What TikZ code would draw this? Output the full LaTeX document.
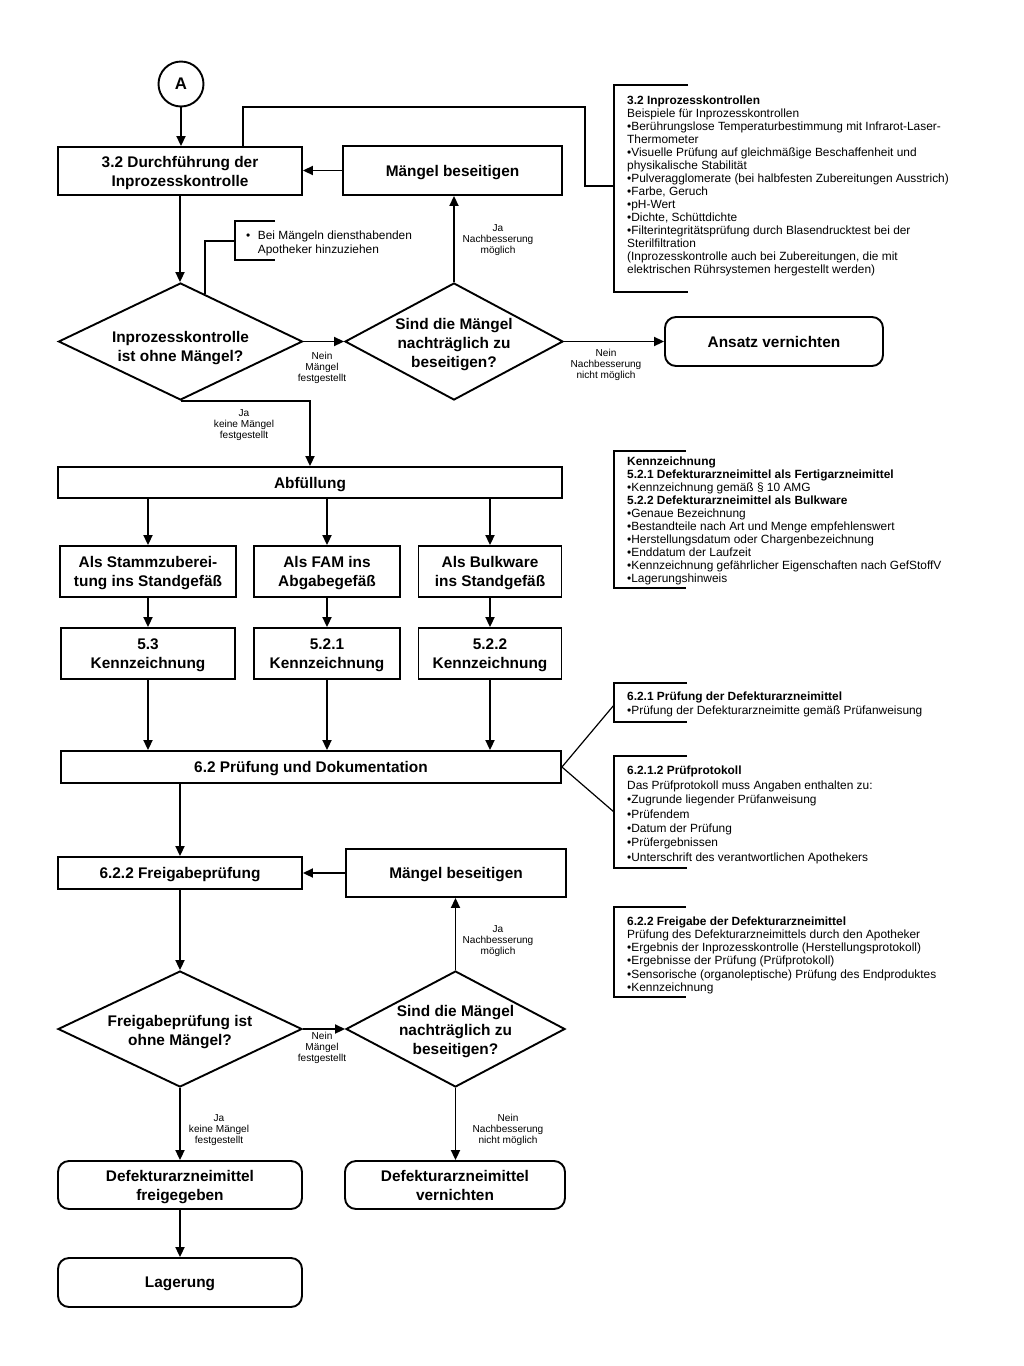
\documentclass[tikz,border=0pt]{standalone}
\usepackage{fontspec}
\setmainfont{Liberation Sans}
\usetikzlibrary{shapes.geometric,arrows.meta,calc}
\begin{document}
\begin{tikzpicture}[x=1pt,y=-1pt,
  box/.style={draw, line width=1.9pt, align=center, font=\bfseries\fontsize{15.4}{19}\selectfont, inner sep=0pt, text depth=0pt},
  rbox/.style={box, rounded corners=11pt},
  dia/.style={draw, diamond, line width=1.9pt, inner sep=0pt},
  dtext/.style={align=center, font=\bfseries\fontsize{15.4}{19}\selectfont, inner sep=0pt, yshift=-3pt},
  conn/.style={line width=1.9pt},
  arr/.style={conn, -{Triangle[length=10pt,width=9pt]}},
  lbl/.style={align=center, font=\fontsize{10.1}{11}\selectfont, inner sep=0pt},
  annot/.style={align=left, font=\fontsize{11.9}{13}\selectfont, inner sep=0pt, anchor=north west},
  brk/.style={line width=1.5pt},
  thin/.style={line width=1.2pt}
]
\useasboundingbox (0,0) rectangle (1024,1366);
\fill[white] (0,0) rectangle (1024,1366);

% ---------- top part ----------
\node[draw, circle, line width=1.9pt, minimum size=45pt, inner sep=0pt,
      font=\bfseries\fontsize{16.8}{20}\selectfont] (A) at (181,84) {A};
\node[box, minimum width=244pt, minimum height=48pt] (B1) at (180,171) {3.2 Durchführung der\\Inprozesskontrolle};
\node[box, minimum width=219pt, minimum height=49pt] (M1) at (452.5,170.5) {Mängel beseitigen};
\node[dia, minimum width=244pt, minimum height=117pt,
      label={[dtext,yshift=-4pt]center:{Inprozesskontrolle\\ist ohne Mängel?}}] (D1) at (180.5,341.5) {};
\node[dia, minimum width=218pt, minimum height=117pt,
      label={[dtext]center:{Sind die Mängel\\nachträglich zu\\beseitigen?}}] (D2) at (454,341.5) {};
\node[rbox, minimum width=218pt, minimum height=49pt] (AV) at (774,341.5) {Ansatz vernichten};

\node[lbl] (l1) at (322,368) {Nein\\Mängel\\festgestellt};
\node[lbl] (l2) at (498,240) {Ja\\Nachbesserung\\möglich};
\node[lbl] (l3) at (606,365) {Nein\\Nachbesserung\\nicht möglich};
\node[lbl] (l4) at (244,425) {Ja\\keine Mängel\\festgestellt};

\draw[arr] (A.south) -- (A.south |- B1.north);
\draw[arr] (M1.west) -- (M1.west -| B1.east);
\draw[arr] (B1.south) -- (B1.south |- D1.north);
\draw[arr] (D1.east) -- (D2.west);
\draw[arr] (D2.north) -- (D2.north |- M1.south);
\draw[arr] (D2.east) -- (AV.west);

% feedback line to annotation
\coordinate (fbturn) at (585,107);
\coordinate (a1mid) at (614,186);
\draw[brk] ([xshift=63pt]B1.north) |- (fbturn) |- (a1mid);

% note at diamond
\coordinate (notemid) at (235,241);
\draw[brk] ($(D1.north)!0.2!(D1.east)$) |- (notemid);
\draw[brk] (275,221) -- (235,221) -- (235,260) -- (275,260);
\node[anchor=north west, inner sep=0pt, font=\fontsize{11.9}{14}\selectfont] (note) at (246,229)
  {\begin{tabular}{@{}l@{\hspace{7.5pt}}l@{}}•&Bei Mängeln diensthabenden\\ &Apotheker hinzuziehen\end{tabular}};

% annotation 1
\draw[brk] (688,85) -- (614,85) -- (614,292) -- (688,292);
\node[annot] (T1) at (627,95.5) {\textbf{3.2 Inprozesskontrollen}\\
Beispiele für Inprozesskontrollen\\
•Berührungslose Temperaturbestimmung mit Infrarot-Laser-\\
Thermometer\\
•Visuelle Prüfung auf gleichmäßige Beschaffenheit und\\
physikalische Stabilität\\
•Pulveragglomerate (bei halbfesten Zubereitungen Ausstrich)\\
•Farbe, Geruch\\
•pH-Wert\\
•Dichte, Schüttdichte\\
•Filterintegritätsprüfung durch Blasendrucktest bei der\\
Sterilfiltration\\
(Inprozesskontrolle auch bei Zubereitungen, die mit\\
elektrischen Rührsystemen hergestellt werden)};

% ---------- middle part ----------
\node[box, minimum width=504pt, minimum height=31pt] (Abf) at (310,482.5) {Abfüllung};
\draw[arr] (D1.south) -| (Abf.north);

\node[box, minimum width=176pt, minimum height=51pt] (R1a) at (148,571.5) {Als Stammzuberei-\\tung ins Standgefäß};
\node[box, minimum width=146pt, minimum height=51pt] (R1b) at (327,571.5) {Als FAM ins\\Abgabegefäß};
\node[box, minimum width=143pt, minimum height=51pt] (R1c) at (490,571.5) {Als Bulkware\\ins Standgefäß};

\node[box, minimum width=174pt, minimum height=51pt] (R2a) at (148,653.5) {5.3\\Kennzeichnung};
\node[box, minimum width=146pt, minimum height=51pt] (R2b) at (327,653.5) {5.2.1\\Kennzeichnung};
\node[box, minimum width=143pt, minimum height=51pt] (R2c) at (490,653.5) {5.2.2\\Kennzeichnung};

\node[box, minimum width=500pt, minimum height=32pt] (P) at (311,767) {6.2 Prüfung und Dokumentation};

\draw[arr] (Abf.south -| R1a.north) -- (R1a.north);
\draw[arr] (Abf.south -| R1b.north) -- (R1b.north);
\draw[arr] (Abf.south -| R1c.north) -- (R1c.north);
\draw[arr] (R1a.south) -- (R2a.north);
\draw[arr] (R1b.south) -- (R2b.north);
\draw[arr] (R1c.south) -- (R2c.north);
\draw[arr] (R2a.south) -- (R2a.south |- P.north);
\draw[arr] (R2b.south) -- (R2b.south |- P.north);
\draw[arr] (R2c.south) -- (R2c.south |- P.north);

% annotation Kennzeichnung
\draw[brk] (686,451) -- (614,451) -- (614,588) -- (686,588);
\node[annot] (T2) at (627,456.5) {\textbf{Kennzeichnung}\\
\textbf{5.2.1 Defekturarzneimittel als Fertigarzneimittel}\\
•Kennzeichnung gemäß § 10 AMG\\
\textbf{5.2.2 Defekturarzneimittel als Bulkware}\\
•Genaue Bezeichnung\\
•Bestandteile nach Art und Menge empfehlenswert\\
•Herstellungsdatum oder Chargenbezeichnung\\
•Enddatum der Laufzeit\\
•Kennzeichnung gefährlicher Eigenschaften nach GefStoffV\\
•Lagerungshinweis};

% annotations 6.2.1 and 6.2.1.2
\coordinate (a3mid) at (614,705);
\coordinate (a4mid) at (614,812);
\draw[thin] (P.east) -- (a3mid);
\draw[thin] (P.east) -- (a4mid);
\draw[brk] (687,683) -- (614,683) -- (614,722) -- (687,722);
\draw[brk] (687,756) -- (614,756) -- (614,868) -- (687,868);
\node[annot, font=\fontsize{11.9}{14.6}\selectfont] (T3) at (627,691.5) {\textbf{6.2.1 Prüfung der Defekturarzneimittel}\\
•Prüfung der Defekturarzneimitte gemäß Prüfanweisung};
\node[annot, font=\fontsize{11.9}{14.4}\selectfont] (T4) at (627,766) {\textbf{6.2.1.2 Prüfprotokoll}\\
Das Prüfprotokoll muss Angaben enthalten zu:\\
•Zugrunde liegender Prüfanweisung\\
•Prüfendem\\
•Datum der Prüfung\\
•Prüfergebnissen\\
•Unterschrift des verantwortlichen Apothekers};

% ---------- bottom part ----------
\node[box, minimum width=244pt, minimum height=32pt] (F) at (180,873) {6.2.2 Freigabeprüfung};
\node[box, minimum width=220pt, minimum height=48pt] (M2) at (456,873) {Mängel beseitigen};
\node[dia, minimum width=244pt, minimum height=116pt,
      label={[dtext]center:{Freigabeprüfung ist\\ohne Mängel?}}] (D3) at (180,1029) {};
\node[dia, minimum width=219pt, minimum height=116pt,
      label={[dtext]center:{Sind die Mängel\\nachträglich zu\\beseitigen?}}] (D4) at (455.5,1029) {};
\node[rbox, minimum width=244pt, minimum height=48pt] (DF) at (180,1185) {Defekturarzneimittel\\freigegeben};
\node[rbox, minimum width=220pt, minimum height=48pt] (DV) at (455,1185) {Defekturarzneimittel\\vernichten};
\node[rbox, minimum width=244pt, minimum height=49pt] (L) at (180,1282.5) {Lagerung};

\node[lbl] (l5) at (322,1048) {Nein\\Mängel\\festgestellt};
\node[lbl] (l6) at (498,941) {Ja\\Nachbesserung\\möglich};
\node[lbl] (l7) at (219,1130) {Ja\\keine Mängel\\festgestellt};
\node[lbl] (l8) at (508,1130) {Nein\\Nachbesserung\\nicht möglich};

\draw[arr] (F.north |- P.south) -- (F.north);
\draw[arr] (M2.west) -- (F.east);
\draw[arr] (F.south) -- (D3.north);
\draw[arr] (D3.east) -- (D4.west);
\draw[arr] (D4.north) -- (D4.north |- M2.south);
\draw[arr] (D3.south) -- (DF.north);
\draw[arr] (D4.south) -- (D4.south |- DV.north);
\draw[arr] (DF.south) -- (L.north);

% annotation 6.2.2
\draw[brk] (686,907) -- (614,907) -- (614,997) -- (686,997);
\node[annot, font=\fontsize{11.9}{13.2}\selectfont] (T5) at (627,916.5) {\textbf{6.2.2 Freigabe der Defekturarzneimittel}\\
Prüfung des Defekturarzneimittels durch den Apotheker\\
•Ergebnis der Inprozesskontrolle (Herstellungsprotokoll)\\
•Ergebnisse der Prüfung (Prüfprotokoll)\\
•Sensorische (organoleptische) Prüfung des Endproduktes\\
•Kennzeichnung};
\end{tikzpicture}
\end{document}
